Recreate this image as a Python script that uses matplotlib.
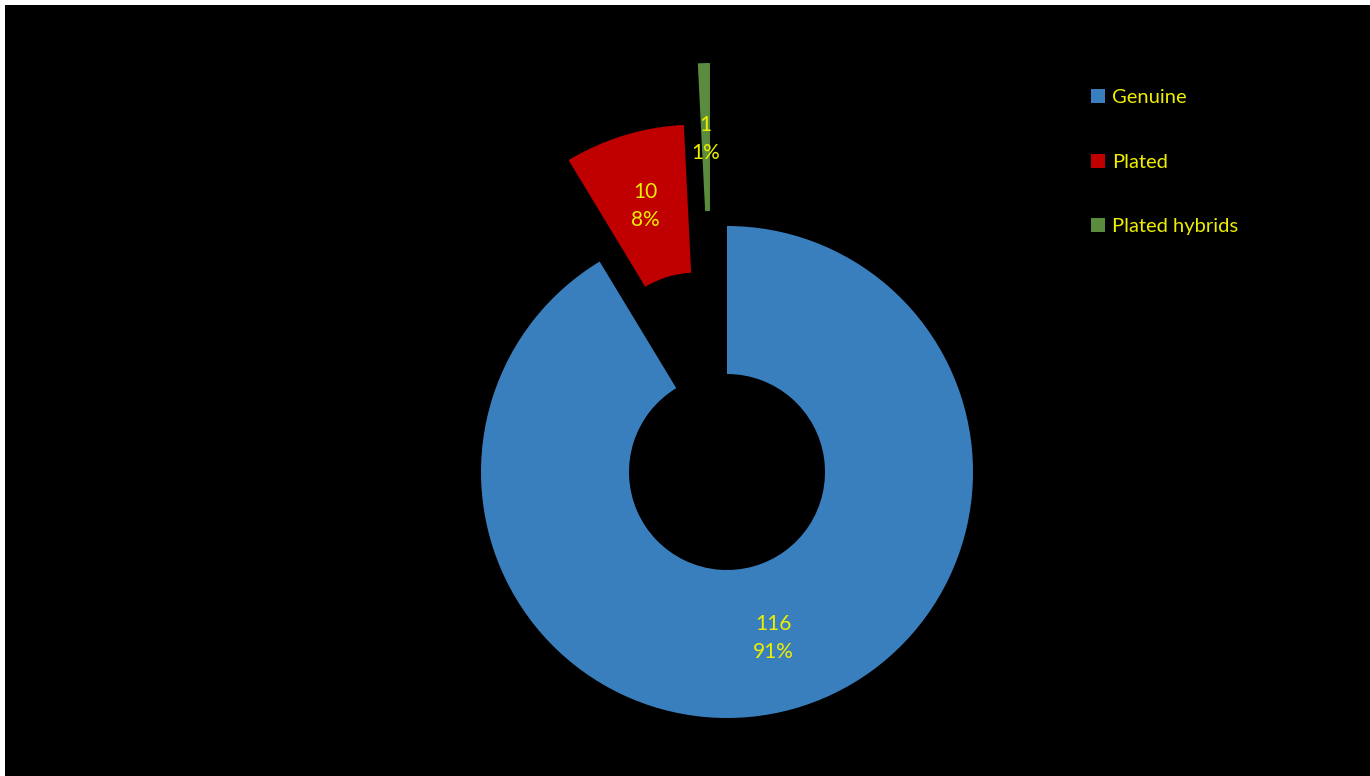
import matplotlib
matplotlib.use("Agg")
import matplotlib.pyplot as plt
from matplotlib.patches import Rectangle

categories = ["Genuine", "Plated", "Plated hybrids"]
values = [116, 10, 1]
colors = ["#3A7FBD", "#C00000", "#5B8B3C"]
text_color = "#EEEE00"

plt.rcParams['font.family'] = ['Lato', 'DejaVu Sans']

W, H = 1370, 776
fig = plt.figure(figsize=(W / 100, H / 100), dpi=100)
fig.patch.set_facecolor("white")
fig.add_artist(Rectangle((5 / W, 0), 1 - 5 / W, 1 - 5 / H, transform=fig.transFigure,
                         facecolor="black", edgecolor="none", zorder=0))

ax = fig.add_axes([0, 0, 1, 1])

total = sum(values)

def fmt(p):
    n = int(round(p * total / 100.0))
    return f"{n}\n{p:.0f}%"

radius = 246
wedges, texts, autotexts = ax.pie(
    values, colors=colors, startangle=90, counterclock=False,
    center=(727, H - 472), radius=radius,
    explode=[0, 106, 163],
    wedgeprops=dict(width=148, edgecolor="none"),
    autopct=fmt, pctdistance=0.70,
    textprops=dict(color=text_color, fontsize=15, linespacing=1.5),
    frame=True,
)
ax.set_xlim(0, W)
ax.set_ylim(0, H)
ax.set_aspect("equal")
ax.axis("off")
for t in autotexts:
    t.set_ha("center")
    t.set_va("center")

# the tiny exploded slice sits a little further left in the reference
shift = -13
cx, cy = wedges[2].center
wedges[2].set_center((cx + shift, cy))
x, y = autotexts[2].get_position()
autotexts[2].set_position((x + shift, y - 2))

leg = fig.legend(wedges, categories, loc="upper left",
                 bbox_to_anchor=(1073 / W, 1 - 71 / H), frameon=False,
                 handlelength=0.7, handleheight=0.7, handletextpad=0.35,
                 labelspacing=2.35, fontsize=14.5)
for t in leg.get_texts():
    t.set_color(text_color)

fig.savefig("out.png", dpi=100, facecolor=fig.get_facecolor())
